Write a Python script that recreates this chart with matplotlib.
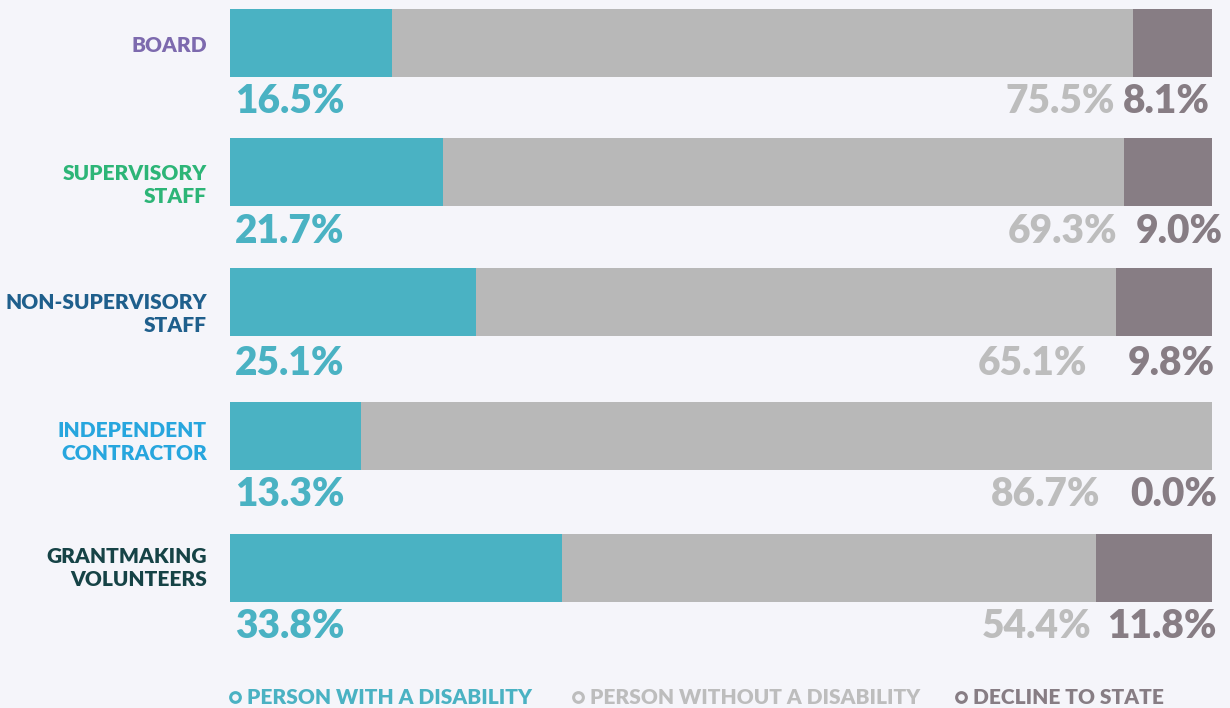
import matplotlib
matplotlib.use("Agg")
import matplotlib.pyplot as plt
from matplotlib.lines import Line2D

categories = ["BOARD", "SUPERVISORY\nSTAFF", "NON-SUPERVISORY\nSTAFF", "INDEPENDENT\nCONTRACTOR", "GRANTMAKING\nVOLUNTEERS"]
with_disability = [16.5, 21.7, 25.1, 13.3, 33.8]
without_disability = [75.5, 69.3, 65.1, 86.7, 54.4]
decline = [8.1, 9.0, 9.8, 0.0, 11.8]
series_names = ["PERSON WITH A DISABILITY", "PERSON WITHOUT A DISABILITY", "DECLINE TO STATE"]

cat_colors = ["#7D6AAE", "#2DB577", "#1F5F8C", "#27A6DE", "#164346"]
c_teal, c_gray, c_mauve = "#4AB2C3", "#B8B8B8", "#877D84"
c_gray_txt = "#BDBDBD"
bg = "#F5F5FA"

# layout (pixels)
W, H = 1230, 708
x0, x1 = 230, 1212
bar_centers = [43, 172, 302, 436, 568]
label_centers = [45, 185, 314, 442, 568]
value_baselines = [113, 243, 375, 506, 638]
gray_right = [1115, 1117, 1087, 1100, 1092]
decline_right = [1210, 1223, 1215, 1217, 1217]
bh = 68

fig = plt.figure(figsize=(W / 100, H / 100), dpi=100, facecolor=bg)
ax = fig.add_axes([x0 / W, 0, (x1 - x0) / W, 1])
ax.set_facecolor(bg)
ax.set_xlim(0, 100)
ax.set_ylim(H, 0)
ax.axis("off")

FONT = "Lato"
px = 100 / (x1 - x0)
def dx(p):
    return (p - x0) * px

ax.barh(bar_centers, with_disability, height=bh, color=c_teal, lw=0)
ax.barh(bar_centers, without_disability, left=with_disability, height=bh, color=c_gray, lw=0)
lefts = [a + b for a, b in zip(with_disability, without_disability)]
ax.barh(bar_centers, decline, left=lefts, height=bh, color=c_mauve, lw=0)

for i in range(len(categories)):
    ax.text(dx(207), label_centers[i], categories[i], ha="right", va="center", color=cat_colors[i],
            fontsize=15, fontweight="heavy", family=FONT, linespacing=1.27, clip_on=False)
    base = value_baselines[i]
    ax.text(dx(235), base, f"{with_disability[i]:.1f}%", ha="left", va="baseline",
            color=c_teal, fontsize=28, fontweight="heavy", family=FONT)
    ax.text(dx(gray_right[i]), base, f"{without_disability[i]:.1f}%", ha="right", va="baseline",
            color=c_gray_txt, fontsize=28, fontweight="heavy", family=FONT)
    ax.text(dx(decline_right[i]), base, f"{decline[i]:.1f}%", ha="right", va="baseline",
            color=c_mauve, fontsize=28, fontweight="heavy", family=FONT, clip_on=False)

leg_cols = [c_teal, c_gray_txt, c_mauve]
leg_x = [235, 578, 961]
ly = H - 697
for name, col, lx in zip(series_names, leg_cols, leg_x):
    fig.add_artist(Line2D([lx / W], [ly / H], marker="o", markersize=7, markerfacecolor="none",
                          markeredgecolor=col, markeredgewidth=2.2, transform=fig.transFigure))
    fig.text((lx + 12) / W, ly / H, name, ha="left", va="center", color=col,
             fontsize=15, fontweight="heavy", family=FONT)

fig.savefig("out.png", dpi=100, facecolor=bg)
